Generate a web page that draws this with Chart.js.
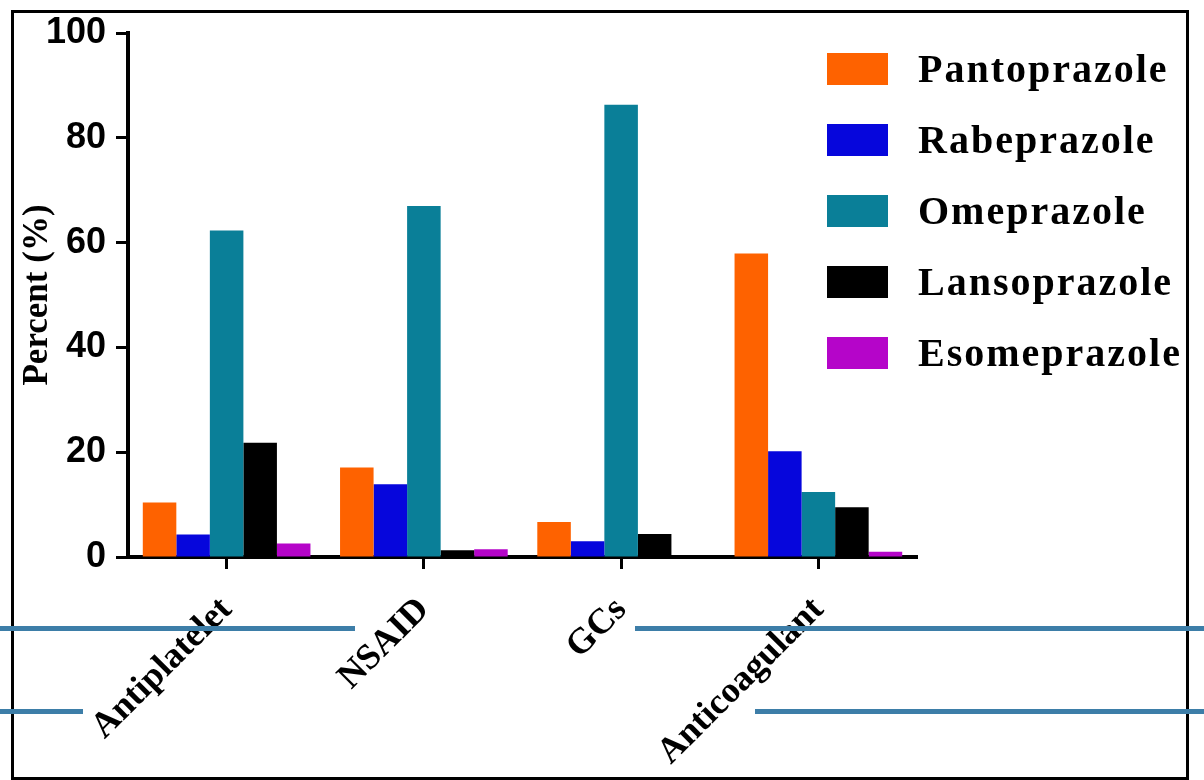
<!DOCTYPE html>
<html>
<head>
<meta charset="utf-8">
<script src="https://cdn.jsdelivr.net/npm/chart.js@4"></script>
<style>
  body { margin: 0; background: #fff; }
  #wrap { position: relative; width: 1204px; height: 780px; overflow: hidden; }
  #grafico { position: absolute; left: 0; top: 0; }
  #moldura { position: absolute; left: 11px; top: 10px; width: 1178px; height: 770px; box-sizing: border-box; border: 3px solid #000; pointer-events: none; }
  .linha { position: absolute; height: 5px; background: #3d7ea8; }
  #legenda { position: absolute; left: 827px; top: 33px; font-family: 'Liberation Serif', 'Times New Roman', serif; font-weight: bold; font-size: 40px; letter-spacing: 2px; color: #000; }
  #legenda .item { display: flex; align-items: center; height: 71px; }
  #legenda .caixa { width: 61px; height: 32px; margin-right: 30px; }
</style>
</head>
<body>
<div id="wrap">
  <canvas id="grafico" width="1204" height="780"></canvas>
  <div id="legenda"></div>
  <div id="moldura"></div>
  <div class="linha" style="left:0;top:626px;width:355px"></div>
  <div class="linha" style="left:635px;top:626px;width:569px"></div>
  <div class="linha" style="left:0;top:709px;width:83px"></div>
  <div class="linha" style="left:755px;top:709px;width:449px"></div>
</div>
<script>
// dados
const categorias = ["Antiplatelet", "NSAID", "GCs", "Anticoagulant"];
const pantoprazole = [10.4, 17.1, 6.7, 57.9];
const rabeprazole = [4.3, 13.9, 3.0, 20.2];
const omeprazole = [62.3, 67.0, 86.3, 12.4];
const lansoprazole = [21.8, 1.3, 4.4, 9.5];
const esomeprazole = [2.6, 1.5, 0, 1.0];
const nomes = ["Pantoprazole", "Rabeprazole", "Omeprazole", "Lansoprazole", "Esomeprazole"];
const cores = ["#fe6200", "#0606dc", "#0a7f98", "#000000", "#b505c9"];
const ticksY = [0, 20, 40, 60, 80, 100];

const series = [pantoprazole, rabeprazole, omeprazole, lansoprazole, esomeprazole];

const ctx = document.getElementById('grafico').getContext('2d');
new Chart(ctx, {
    type: 'bar',
    data: {
        labels: categorias,
        datasets: series.map((s, i) => ({
            label: nomes[i], data: s, backgroundColor: cores[i], borderWidth: 0
        }))
    },
    options: {
        responsive: false,
        animation: false,
        layout: { padding: { left: 0, top: 33, right: 287, bottom: 0 } },
        datasets: { bar: { barPercentage: 1.0, categoryPercentage: 0.85 } },
        plugins: { legend: { display: false }, tooltip: { enabled: false } },
        scales: {
            x: {
                offset: true,
                grid: { display: true, drawOnChartArea: false, offset: false, tickLength: 12, tickWidth: 3, tickColor: '#000' },
                border: { display: true, color: '#000', width: 4 },
                ticks: {
                    color: '#000', minRotation: 45, maxRotation: 45, padding: 20,
                    font: { family: "'Liberation Serif', 'Times New Roman', serif", weight: 'bold', size: 36 }
                },
                afterFit: (scale) => { scale.height = 780 - 557; }
            },
            y: {
                min: 0, max: 100,
                afterBuildTicks: (scale) => { scale.ticks = ticksY.map(v => ({ value: v })); },
                grid: { display: true, drawOnChartArea: false, tickLength: 12, tickWidth: 3, tickColor: '#000' },
                border: { display: true, color: '#000', width: 4 },
                ticks: {
                    color: '#000', padding: 10,
                    font: { family: "'Liberation Sans', Arial, sans-serif", weight: 'bold', size: 36 }
                },
                title: {
                    display: true, text: 'Percent (%)', color: '#000', padding: { top: 17, bottom: 0 },
                    font: { family: "'Liberation Serif', 'Times New Roman', serif", weight: 'bold', size: 35 }
                },
                afterFit: (scale) => { scale.width = 128; }
            }
        }
    }
});

// legenda em html, ao lado do grafico
const legenda = document.getElementById('legenda');
nomes.forEach((n, i) => {
    legenda.innerHTML += `<div class="item"><div class="caixa" style="background:${cores[i]}"></div><span>${n}</span></div>`;
});
</script>
</body>
</html>
